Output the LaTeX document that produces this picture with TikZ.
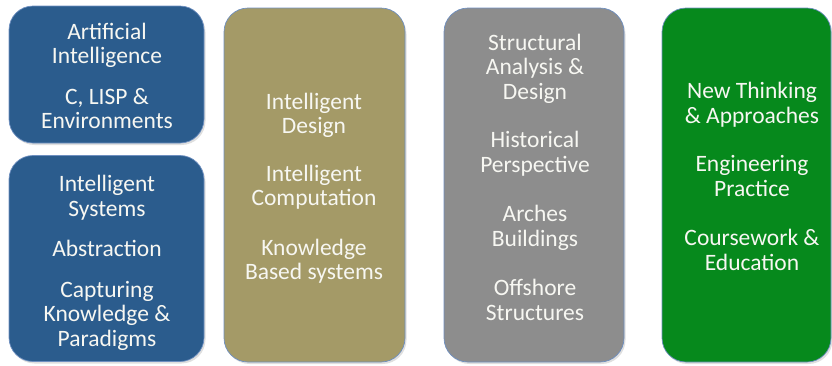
\documentclass[tikz,border=0pt]{standalone}
\usepackage{fontspec}
\setmainfont{Carlito}
\usetikzlibrary{shadows}
\definecolor{cblue}{HTML}{2B5C8D}
\definecolor{colive}{HTML}{A49A67}
\definecolor{cgray}{HTML}{8D8D8D}
\definecolor{cgreen}{HTML}{06891C}
\definecolor{edgeblue}{HTML}{6E8FC0}
\definecolor{ctext}{HTML}{F7F7F2}
\begin{document}
\begin{tikzpicture}[x=1pt,y=-1pt,
  box/.style={draw=edgeblue, line width=0.7pt, rounded corners=24pt, inner sep=0pt,
    drop shadow={opacity=0.25, shadow xshift=1.5pt, shadow yshift=-2pt}},
  txt/.style={text=ctext, align=center, inner sep=0pt, font=\fontsize{23.5}{24.5}\selectfont}]
\useasboundingbox (0,0) rectangle (832,365);
\node[box, fill=cblue, minimum width=195pt, minimum height=137pt] (b1) at (106.5,74.5) {};
\node[box, fill=cblue, minimum width=195pt, minimum height=206pt] (b2) at (106.5,258.5) {};
\node[box, fill=colive, minimum width=181pt, minimum height=354pt] (b3) at (314.5,185) {};
\node[box, fill=cgray, minimum width=180pt, minimum height=354pt] (b4) at (534,185) {};
\node[box, fill=cgreen, minimum width=169pt, minimum height=354pt] (b5) at (746.5,185) {};
\node[txt] (t1) at (107,76) {Artificial\\Intelligence\\[16pt]C, LISP \&\\Environments};
\node[txt] (t2) at (107,263) {Intelligent\\Systems\\[16pt]Abstraction\\[16pt]Capturing\\Knowledge \&\\Paradigms};
\node[txt] (t3) at (314,188) {Intelligent\\Design\\[23pt]Intelligent\\Computation\\[25pt]Knowledge\\Based systems};
\node[txt] (t4) at (535,177) {Structural\\Analysis \&\\Design\\[24pt]Historical\\Perspective\\[25pt]Arches\\Buildings\\[25pt]Offshore\\Structures};
\node[txt] (t5) at (752,176.5) {New Thinking\\\& Approaches\\[24pt]Engineering\\Practice\\[25pt]Coursework \&\\Education};
\end{tikzpicture}
\end{document}
